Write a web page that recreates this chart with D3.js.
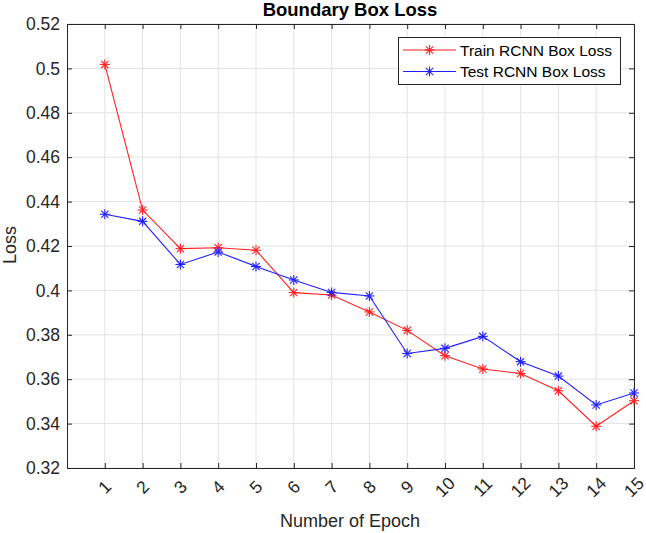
<!DOCTYPE html>
<html>
<head>
<meta charset="utf-8">
<script src="https://cdn.jsdelivr.net/npm/d3@7"></script>
<style>
body { margin: 0; background: #fff; }
svg text { font-family: "Liberation Sans", Arial, Helvetica, sans-serif; fill: #262626; }
</style>
</head>
<body>
<div id="chart"></div>
<script>
// DATA

const epochs = [1,2,3,4,5,6,7,8,9,10,11,12,13,14,15];
const trainLoss = [0.5018,0.4362,0.4188,0.4192,0.4181,0.3990,0.3979,0.3903,0.3820,0.3706,0.3646,0.3626,0.3548,0.3388,0.3503];
const testLoss = [0.4343,0.4311,0.4117,0.4173,0.4108,0.4047,0.3991,0.3975,0.3716,0.3739,0.3793,0.3679,0.3614,0.3484,0.3538];
const yTicks = [0.32,0.34,0.36,0.38,0.4,0.42,0.44,0.46,0.48,0.5,0.52];
const seriesNames = ["Train RCNN Box Loss","Test RCNN Box Loss"];
const seriesColors = ["#ff2020","#2020ff"];

// SVG CANVAS

const width = 646;
const height = 533;
const margin = {top: 24, left: 67, right: 12, bottom: 65};
const svg = d3.select("#chart")
    .append("svg")
    .attr("width", width)
    .attr("height", height);

// SCALES

const xScale = d3.scaleLinear()
    .domain([0,15])
    .range([margin.left, width-margin.right]);

const yScale = d3.scaleLinear()
    .domain([0.32,0.52])
    .range([height-margin.bottom, margin.top]);

// GRID

svg.append("g")
    .selectAll("line")
    .data(epochs)
    .enter()
    .append("line")
        .attr("x1", function(d) { return xScale(d); })
        .attr("x2", function(d) { return xScale(d); })
        .attr("y1", margin.top)
        .attr("y2", height-margin.bottom)
        .attr("stroke", "#e3e3e3")
        .attr("stroke-width", 1);

svg.append("g")
    .selectAll("line")
    .data(yTicks)
    .enter()
    .append("line")
        .attr("x1", margin.left)
        .attr("x2", width-margin.right)
        .attr("y1", function(d) { return yScale(d); })
        .attr("y2", function(d) { return yScale(d); })
        .attr("stroke", "#e3e3e3")
        .attr("stroke-width", 1);

// AXIS (box with inward ticks)

const tickLen = 5;

const xAxis = svg.append("g")
    .attr("transform", `translate(0, ${height-margin.bottom})`)
    .call(d3.axisBottom(xScale).tickValues(epochs).tickSize(-tickLen).tickFormat(""));

const xAxisTop = svg.append("g")
    .attr("transform", `translate(0, ${margin.top})`)
    .call(d3.axisTop(xScale).tickValues(epochs).tickSize(-tickLen).tickFormat(""));

const yAxis = svg.append("g")
    .attr("transform", `translate(${margin.left},0)`)
    .call(d3.axisLeft(yScale).tickValues(yTicks).tickSize(-tickLen).tickFormat(d3.format("")).tickPadding(7));

const yAxisRight = svg.append("g")
    .attr("transform", `translate(${width-margin.right},0)`)
    .call(d3.axisRight(yScale).tickValues(yTicks).tickSize(-tickLen).tickFormat(""));

svg.selectAll(".domain").attr("stroke", "#262626").attr("stroke-width", 1);
svg.selectAll(".tick line").attr("stroke", "#262626");
yAxis.selectAll("text")
    .attr("font-size", 17.5)
    .style("font-family", "'Liberation Sans', Arial, sans-serif")
    .attr("fill", "#262626");

// rotated x tick labels
svg.append("g")
    .selectAll("text")
    .data(epochs)
    .enter()
    .append("text")
        .attr("transform", function(d) { return `translate(${xScale(d)}, ${height-margin.bottom+19}) rotate(-45)`; })
        .attr("text-anchor", "middle")
        .attr("dominant-baseline", "central")
        .attr("font-size", 17.5)
        .text(function(d) { return d; });

// LABELS

svg.append("text")
    .attr("x", 350)
    .attr("y", 16)
    .attr("text-anchor", "middle")
    .attr("font-size", 18.5)
    .attr("font-weight", "bold")
    .style("fill", "#000")
    .text("Boundary Box Loss");

svg.append("text")
    .attr("x", 350)
    .attr("y", 527)
    .attr("text-anchor", "middle")
    .attr("font-size", 18)
    .text("Number of Epoch");

svg.append("text")
    .attr("transform", "rotate(-90)")
    .attr("x", -245)
    .attr("y", 16)
    .attr("text-anchor", "middle")
    .attr("font-size", 18)
    .text("Loss");

// DATA LINES

const allSeries = [trainLoss, testLoss];

const line = d3.line()
    .x(function(d, i) { return xScale(epochs[i]); })
    .y(function(d) { return yScale(d); });

function drawStar(g, x, y, color) {
    const r = 5, rd = 3.6;
    const segs = [[-r,0,r,0],[0,-r,0,r],[-rd,-rd,rd,rd],[-rd,rd,rd,-rd]];
    segs.forEach(function(s) {
        g.append("line")
            .attr("x1", x+s[0]).attr("y1", y+s[1])
            .attr("x2", x+s[2]).attr("y2", y+s[3])
            .attr("stroke", color)
            .attr("stroke-width", 1.1);
    });
}

allSeries.forEach(function(values, k) {
    svg.append("path")
        .datum(values)
        .attr("d", line)
        .attr("fill", "none")
        .attr("stroke", seriesColors[k])
        .attr("stroke-width", 1.1);

    const g = svg.append("g");
    values.forEach(function(v, i) {
        drawStar(g, xScale(epochs[i]), yScale(v), seriesColors[k]);
    });
});

// LEGEND

const legend = svg.append("g");
legend.append("rect")
    .attr("x", 398.5)
    .attr("y", 37.5)
    .attr("width", 222)
    .attr("height", 47)
    .attr("fill", "#fff")
    .attr("stroke", "#262626")
    .attr("stroke-width", 1);

seriesNames.forEach(function(name, k) {
    const ly = 50 + k*21.5;
    legend.append("line")
        .attr("x1", 403).attr("x2", 456)
        .attr("y1", ly).attr("y2", ly)
        .attr("stroke", seriesColors[k])
        .attr("stroke-width", 1.1);
    drawStar(legend, 429.5, ly, seriesColors[k]);
    legend.append("text")
        .attr("x", 460)
        .attr("y", ly)
        .attr("dominant-baseline", "central")
        .attr("font-size", 15.5)
        .style("fill", "#000")
        .text(name);
});
</script>
</body>
</html>
